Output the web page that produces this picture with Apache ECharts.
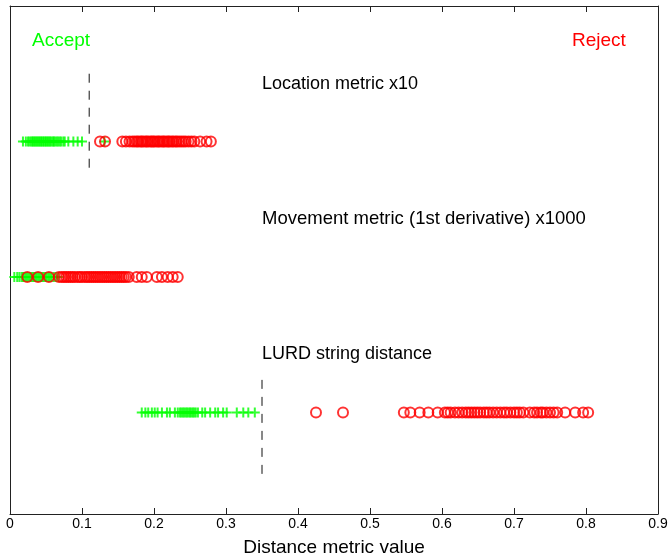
<!DOCTYPE html>
<html>
<head>
<meta charset="utf-8">
<script src="https://cdn.jsdelivr.net/npm/echarts@6/dist/echarts.min.js"></script>
<style>
  html, body { margin: 0; padding: 0; background: #fff; }
  #chart { width: 669px; height: 557px; }
</style>
</head>
<body>
<div id="chart"></div>
<script>
// Row positions for each metric (y = 1, 2, 3 from the top)
const rowLocation = 1;
const rowMovement = 2;
const rowLurd = 3;

// Location metric x10
const locAccept = [0.018, 0.022, 0.025, 0.027, 0.029, 0.031, 0.032, 0.034, 0.035, 0.037, 0.038, 0.040,
  0.041, 0.043, 0.044, 0.046, 0.047, 0.049, 0.050, 0.052, 0.053, 0.055, 0.056, 0.058, 0.060, 0.061,
  0.063, 0.065, 0.067, 0.069, 0.071, 0.074, 0.076, 0.081, 0.088, 0.094, 0.100, 0.131];
const locReject = [0.125, 0.132, 0.156, 0.161, 0.166, 0.170, 0.173, 0.176, 0.178, 0.181, 0.183, 0.185,
  0.188, 0.190, 0.192, 0.195, 0.197, 0.199, 0.201, 0.204, 0.206, 0.208, 0.211, 0.213, 0.215, 0.218,
  0.220, 0.222, 0.225, 0.227, 0.230, 0.232, 0.235, 0.238, 0.241, 0.244, 0.248, 0.252, 0.256, 0.264,
  0.273, 0.279];

// Movement metric (1st derivative) x1000
const movAccept = [0.006, 0.010, 0.013, 0.016, 0.018, 0.020, 0.022, 0.024, 0.026, 0.028, 0.030, 0.032,
  0.034, 0.036, 0.038, 0.040, 0.042, 0.044, 0.046, 0.048, 0.050, 0.052, 0.054, 0.056, 0.058, 0.061,
  0.064, 0.067];
const movReject = [0.024, 0.039, 0.054, 0.068, 0.072, 0.075, 0.078, 0.081, 0.084, 0.087, 0.090, 0.094,
  0.097, 0.100, 0.104, 0.107, 0.110, 0.113, 0.116, 0.119, 0.122, 0.125, 0.128, 0.131, 0.134, 0.137,
  0.140, 0.143, 0.146, 0.149, 0.152, 0.155, 0.158, 0.161, 0.165, 0.176, 0.183, 0.190, 0.204, 0.211,
  0.219, 0.226, 0.233];

// LURD string distance
const lurdAccept = [0.183, 0.188, 0.192, 0.197, 0.201, 0.205, 0.211, 0.218, 0.222, 0.229, 0.233, 0.236,
  0.238, 0.240, 0.242, 0.244, 0.246, 0.248, 0.250, 0.252, 0.254, 0.256, 0.258, 0.261, 0.267, 0.271,
  0.278, 0.285, 0.289, 0.296, 0.301, 0.315, 0.324, 0.331, 0.340];
const lurdReject = [0.425, 0.4625, 0.547, 0.556, 0.569, 0.581, 0.594, 0.604, 0.608, 0.612, 0.618, 0.623,
  0.628, 0.633, 0.637, 0.641, 0.645, 0.649, 0.653, 0.658, 0.662, 0.666, 0.671, 0.676, 0.681, 0.686,
  0.690, 0.695, 0.700, 0.704, 0.708, 0.713, 0.722, 0.728, 0.732, 0.737, 0.740, 0.745, 0.750, 0.755,
  0.760, 0.771, 0.785, 0.796, 0.803];

// Decision thresholds: x value and vertical extent of the dashed marker
const locThreshold = [[0.11, 0.5], [0.11, 1.25]];
const lurdThreshold = [[0.35, 2.76], [0.35, 3.5]];

// X axis tick values
const xTicks = [0, 0.1, 0.2, 0.3, 0.4, 0.5, 0.6, 0.7, 0.8, 0.9];

const GREEN = '#00ff00';
const RED = '#ff0000';
const FONT = '"Liberation Sans", Arial, Helvetica, sans-serif';
const PLUS = 'path://M5,0L5,10M0,5L10,5';

function toPoints(xs, row) { return xs.map(x => [x, row]); }

function acceptSeries(xs, row) {
  return {
    type: 'scatter', data: toPoints(xs, row), symbol: PLUS, symbolSize: 10,
    itemStyle: { color: 'rgba(0,0,0,0)', borderColor: GREEN, borderWidth: 2 },
    emphasis: { disabled: true }, silent: true, z: 2
  };
}
function rejectSeries(xs, row) {
  return {
    type: 'scatter', data: toPoints(xs, row), symbol: 'circle', symbolSize: 10,
    itemStyle: { color: 'rgba(0,0,0,0)', borderColor: RED, borderWidth: 2 },
    emphasis: { disabled: true }, silent: true, z: 3
  };
}
function thresholdSeries(pts) {
  return {
    type: 'line', data: pts, symbol: 'none', silent: true, z: 1,
    lineStyle: { color: '#111', width: 1, type: [9, 8] }
  };
}

const chart = echarts.init(document.getElementById('chart'), null, { renderer: 'canvas' });

const axisLineStyle = { color: '#222', width: 1 };

chart.setOption({
  animation: false,
  backgroundColor: '#fff',
  grid: { left: 10, right: 11, top: 6, bottom: 43, containLabel: false, outerBoundsMode: 'none' },
  xAxis: [
    {
      type: 'value', min: xTicks[0], max: xTicks[xTicks.length - 1], interval: 0.1,
      position: 'bottom',
      axisLine: { show: true, onZero: false, lineStyle: axisLineStyle },
      axisTick: { show: true, inside: true, length: 6, lineStyle: axisLineStyle },
      axisLabel: { show: true, margin: 3, fontSize: 14, color: '#000', fontFamily: FONT,
        formatter: v => String(Math.round(v * 10) / 10) },
      splitLine: { show: false },
      name: 'Distance metric value', nameLocation: 'middle', nameGap: 24,
      nameTextStyle: { fontSize: 19, color: '#000', fontFamily: FONT }
    },
    {
      type: 'value', min: xTicks[0], max: xTicks[xTicks.length - 1], interval: 0.1,
      position: 'top',
      axisLine: { show: true, onZero: false, lineStyle: axisLineStyle },
      axisTick: { show: true, inside: true, length: 6, lineStyle: axisLineStyle },
      axisLabel: { show: false },
      splitLine: { show: false }
    }
  ],
  yAxis: [
    {
      type: 'value', min: 0, max: 3.75, inverse: true, position: 'left',
      axisLine: { show: true, onZero: false, lineStyle: axisLineStyle },
      axisTick: { show: false }, axisLabel: { show: false }, splitLine: { show: false }
    },
    {
      type: 'value', min: 0, max: 3.75, inverse: true, position: 'right',
      axisLine: { show: true, onZero: false, lineStyle: axisLineStyle },
      axisTick: { show: false }, axisLabel: { show: false }, splitLine: { show: false }
    }
  ],
  series: [
    thresholdSeries(locThreshold),
    thresholdSeries(lurdThreshold),
    acceptSeries(locAccept, rowLocation),
    rejectSeries(locReject, rowLocation),
    acceptSeries(movAccept, rowMovement),
    rejectSeries(movReject, rowMovement),
    acceptSeries(lurdAccept, rowLurd),
    rejectSeries(lurdReject, rowLurd)
  ],
  graphic: [
    { type: 'text', left: 32, top: 31, style: { text: 'Accept', fill: GREEN, font: '19px ' + FONT } },
    { type: 'text', left: 572, top: 31, style: { text: 'Reject', fill: RED, font: '19px ' + FONT } },
    { type: 'text', left: 262, top: 75, style: { text: 'Location metric x10', fill: '#000', font: '18px ' + FONT } },
    { type: 'text', left: 262, top: 209, style: { text: 'Movement metric (1st derivative) x1000', fill: '#000', font: '18.5px ' + FONT } },
    { type: 'text', left: 262, top: 345, style: { text: 'LURD string distance', fill: '#000', font: '18px ' + FONT } }
  ]
});
</script>
</body>
</html>
